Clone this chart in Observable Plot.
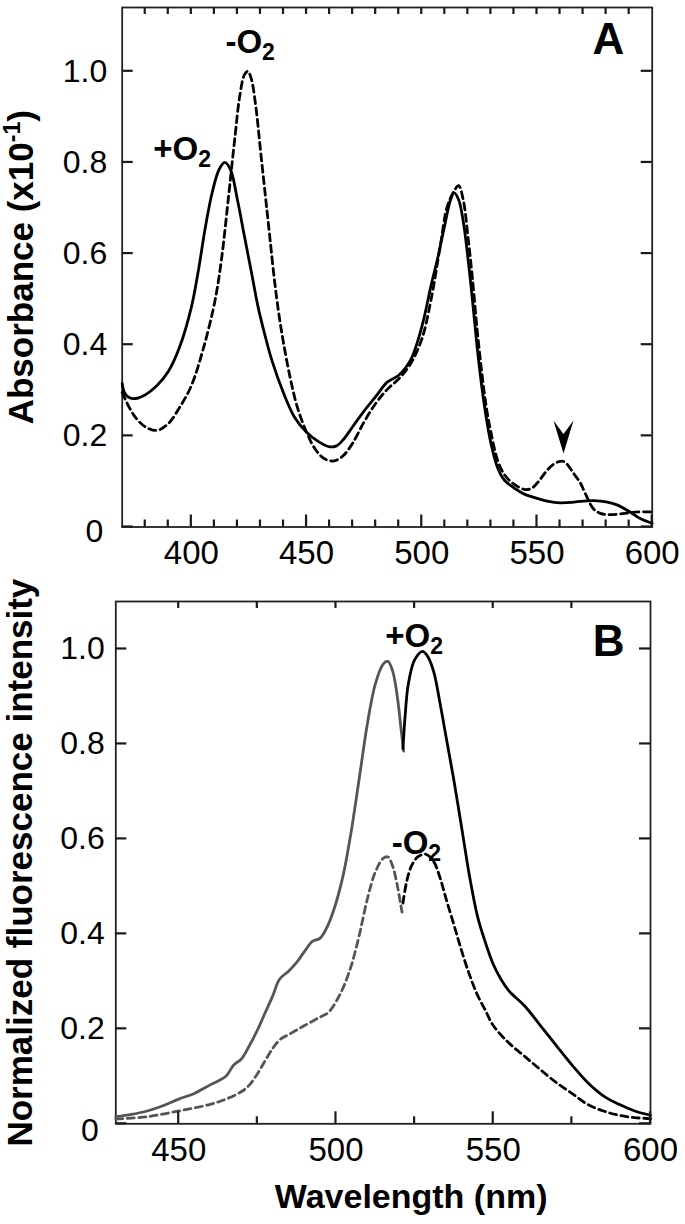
<!DOCTYPE html>
<html><head><meta charset="utf-8">
<script src="https://cdn.jsdelivr.net/npm/d3@7"></script>
<script src="https://cdn.jsdelivr.net/npm/@observablehq/plot@0.6"></script>
<style>
html,body{margin:0;padding:0;background:#fff;}
#chart{width:685px;}
#chart svg{display:block;}
</style></head><body><div id="chart"></div>
<script>
// ---------- Panel A: absorbance ----------
const aWlPlus = [370,371,373,376,380,385,390,395,400,403,406,409,412,414.5,417,420,423,426,429,432,435,440,445,450,455,460,463,466,470,475,480,485,490,495,498,501,504,507,510,512.5,514,516,518,520,522,524,526,528,530,533,536,540,545,550,555,560,565,570,575,580,585,590,595,600];
const aAbsPlus = [0.315,0.295,0.284,0.282,0.29,0.31,0.341,0.396,0.482,0.561,0.655,0.733,0.784,0.8,0.784,0.718,0.639,0.561,0.482,0.42,0.365,0.294,0.239,0.208,0.188,0.176,0.178,0.192,0.22,0.255,0.286,0.318,0.333,0.365,0.404,0.459,0.529,0.592,0.663,0.718,0.733,0.718,0.671,0.592,0.498,0.396,0.31,0.239,0.184,0.129,0.102,0.086,0.071,0.063,0.056,0.053,0.054,0.057,0.058,0.055,0.048,0.034,0.018,0.008];
const aWlMinus = [370,373,376,380,385,390,395,400,405,410,413,416,419,421,423,424.5,426,428,430,432,434,436,438,440,443,446,450,454,458,462,466,470,475,480,485,490,495,500,504,508,511,514,516,518,520,522,524,526,528,530,533,536,540,545,548,551,554,557,560,562,566,569,571,574.5,577.5,582,588,594,600];
const aAbsMinus = [0.295,0.263,0.239,0.22,0.212,0.227,0.263,0.31,0.388,0.49,0.584,0.718,0.859,0.945,0.992,1.0,0.984,0.922,0.827,0.733,0.639,0.545,0.467,0.404,0.325,0.263,0.208,0.169,0.149,0.145,0.157,0.184,0.231,0.271,0.302,0.325,0.357,0.412,0.498,0.616,0.702,0.737,0.749,0.718,0.639,0.545,0.435,0.341,0.263,0.208,0.145,0.114,0.094,0.082,0.086,0.102,0.122,0.137,0.144,0.143,0.117,0.095,0.073,0.04,0.03,0.027,0.03,0.033,0.033];
const aXDomain = [370, 600];
const aYDomain = [0, 1.14];
const aXMajor = [400,450,500,550,600];
const aXMinor = [380,390,410,420,430,440,460,470,480,490,510,520,530,540,560,570,580,590];
const aXTop = [380,390,400,410,420,430,440,450,460,470,480,490,500,510,520,530,540,550,560,570,580,590];
const aYTicks = [0.2,0.4,0.6,0.8,1.0];
const aYZero = [0];
const aYTitle = "Absorbance (x10-1)";
const aLabels = [{t:"+O2", w:383.5, v:0.805}, {t:"-O2", w:414.8, v:1.04}];
const aPanel = [{t:"A", w:581, v:1.039}];
const aArrow = [{w:561.5, v:0.1975}];

// ---------- Panel B: fluorescence ----------
const bWlPlusL = [430,435,440,445,450,455,460,465,467.5,470,472.5,475,477.5,480,482,485,487.5,490,492.5,495,497.5,500,502.5,505,507.5,510,512.5,515,516.5,518,519.5,520.5,521.5];
const bIntPlusL = [0.015,0.02,0.027,0.038,0.052,0.064,0.082,0.10,0.124,0.137,0.165,0.197,0.234,0.271,0.304,0.322,0.34,0.363,0.384,0.391,0.419,0.465,0.53,0.622,0.732,0.843,0.926,0.968,0.974,0.954,0.9,0.843,0.785];
const bWlPlusR = [521.3,522,523,525,527.5,529,531,533,535,537.5,540,542.5,545,547.5,550,552.5,555,560,565,570,575,580,585,590,595,600];
const bIntPlusR = [0.79,0.86,0.926,0.977,0.995,0.986,0.954,0.889,0.815,0.723,0.622,0.52,0.437,0.382,0.336,0.304,0.28,0.248,0.207,0.165,0.124,0.087,0.059,0.041,0.027,0.018];
const bWlMinusL = [430,440,450,460,465,470,472.5,475,477.5,480,482.5,485,490,495,497.5,500,502.5,505,507.5,510,512.5,515,516.5,518,519.5,520.5,521];
const bIntMinusL = [0.01,0.015,0.027,0.041,0.052,0.068,0.082,0.105,0.133,0.16,0.179,0.188,0.207,0.225,0.234,0.257,0.29,0.336,0.4,0.474,0.53,0.559,0.562,0.543,0.502,0.465,0.446];
const bWlMinusR = [521.3,522.5,524,526,528.5,531,533,535,537.5,540,542.5,545,547.5,550,555,560,565,570,575,580,585,590,595,600];
const bIntMinusR = [0.465,0.511,0.543,0.562,0.568,0.553,0.52,0.474,0.419,0.363,0.313,0.271,0.239,0.207,0.17,0.142,0.114,0.087,0.064,0.041,0.027,0.018,0.013,0.011];
const bXDomain = [430, 600];
const bYDomain = [0, 1.1];
const bXMajor = [450,500,550,600];
const bXMinor = [475,525,575];
const bXTop = [450,475,500,525,550,575];
const bYTicks = [0.2,0.4,0.6,0.8,1.0];
const bYZero = [0];
const bYTitle = "Normalized fluorescence intensity";
const bXTitle = "Wavelength (nm)";
const bLabels = [{t:"+O2", w:515.7, v:1.005}, {t:"-O2", w:517.7, v:0.568}];
const bPanel = [{t:"B", w:586.7, v:0.986}];

// ---------- helpers ----------
const FONT = "'Liberation Sans', Arial, Helvetica, sans-serif";
const zip = (xs, ys) => xs.map((w, i) => ({w, v: ys[i]}));
const fmtY = d => d === 0 ? "0" : d.toFixed(1);
const FRAME = "#222";
const TICK = "#1a1a1a";
const arrowSymbol = {
  draw(ctx) {
    ctx.moveTo(-10, -16.5);
    ctx.lineTo(0, -3);
    ctx.lineTo(10, -16.5);
    ctx.lineTo(0, 16.5);
    ctx.closePath();
  }
};

function axes(xMajor, yTicks, yZero, yPad, zeroShift) {
  return [
    Plot.frame({stroke: FRAME, strokeWidth: 1.8}),
    Plot.axisX(xMajor, {anchor: "bottom", tickSize: 0, tickPadding: 14, label: null, fill: "black", fontSize: 33}),
    Plot.axisY(yTicks, {anchor: "left", tickSize: 0, tickPadding: yPad, tickFormat: fmtY, label: null, fill: "black", fontSize: 32}),
    Plot.axisY(yZero, {anchor: "left", tickSize: 0, tickPadding: yPad + zeroShift[0], dy: zeroShift[1], tickFormat: fmtY, label: null, fill: "black", fontSize: 32})
  ];
}

// inward ticks drawn with d3 through the plot's own scales
function addTicks(svg, xMajor, xMinor, xTop, yAll) {
  const sx = svg.scale("x"), sy = svg.scale("y");
  const [r0, r1] = sx.range, [b, t] = sy.range;
  const g = d3.select(svg).append("g").attr("stroke", TICK).attr("stroke-width", 2.2);
  const vx = (arr, y0, len) => arr.forEach(v => {
    const x = sx.apply(v);
    g.append("line").attr("x1", x).attr("x2", x).attr("y1", y0).attr("y2", y0 + len);
  });
  const hy = (arr, x0, len) => arr.forEach(v => {
    const y = sy.apply(v);
    g.append("line").attr("y1", y).attr("y2", y).attr("x1", x0).attr("x2", x0 + len);
  });
  vx(xMajor, b, -12);
  vx(xMinor, b, -7);
  vx(xTop, t, 7);
  hy(yAll, r0, 11);
  hy(yAll, r1, -11);
}

const lblMarks = (labels) => Plot.text(labels, {x: "w", y: "v", text: "t", textAnchor: "start", lineAnchor: "bottom", fontSize: 33, fontWeight: "bold", fill: "black"});
const panelMark = (p) => Plot.text(p, {x: "w", y: "v", text: "t", textAnchor: "middle", lineAnchor: "bottom", fontSize: 44, fontWeight: "bold", fill: "black"});

const style = {fontFamily: FONT, fontSize: "32px", color: "black", background: "white", overflow: "visible"};

const plotA = Plot.plot({
  width: 685, height: 575,
  marginLeft: 121.7, marginRight: 33.3, marginTop: 7, marginBottom: 48.5,
  x: {domain: aXDomain},
  y: {domain: aYDomain},
  style,
  marks: [
    ...axes(aXMajor, aYTicks, aYZero, 15, [4, 5]),
    Plot.line(zip(aWlMinus, aAbsMinus), {x: "w", y: "v", stroke: "black", strokeWidth: 2.8, strokeDasharray: "7,4.5", curve: "catmull-rom"}),
    Plot.line(zip(aWlPlus, aAbsPlus), {x: "w", y: "v", stroke: "black", strokeWidth: 2.8, curve: "catmull-rom"}),
    Plot.dot(aArrow, {x: "w", y: "v", symbol: arrowSymbol, fill: "black", stroke: "none"}),
    lblMarks(aLabels),
    panelMark(aPanel),
    Plot.text([aYTitle], {frameAnchor: "left", rotate: -90, dx: -89.7, textAnchor: "middle", lineAnchor: "bottom", fontSize: 35, fontWeight: "bold", fill: "black"})
  ]
});

const plotB = Plot.plot({
  width: 685, height: 649,
  marginLeft: 115.3, marginRight: 35, marginTop: 26, marginBottom: 100.7,
  x: {domain: bXDomain},
  y: {domain: bYDomain},
  style,
  marks: [
    ...axes(bXMajor, bYTicks, bYZero, 11, [6, 7]),
    Plot.line(zip(bWlMinusL, bIntMinusL), {x: "w", y: "v", stroke: "#555", strokeWidth: 2.8, strokeDasharray: "7,4.5", curve: "catmull-rom"}),
    Plot.line(zip(bWlMinusR, bIntMinusR), {x: "w", y: "v", stroke: "black", strokeWidth: 2.8, strokeDasharray: "7,4.5", curve: "catmull-rom"}),
    Plot.line(zip(bWlPlusL, bIntPlusL), {x: "w", y: "v", stroke: "#555", strokeWidth: 2.8, curve: "catmull-rom"}),
    Plot.line(zip(bWlPlusR, bIntPlusR), {x: "w", y: "v", stroke: "black", strokeWidth: 2.8, curve: "catmull-rom"}),
    lblMarks(bLabels),
    panelMark(bPanel),
    Plot.text([bYTitle], {frameAnchor: "left", rotate: -90, dx: -84.3, textAnchor: "middle", lineAnchor: "bottom", fontSize: 35, fontWeight: "bold", fill: "black"}),
    Plot.text([bXTitle], {frameAnchor: "bottom", dx: 28, dy: 84.2, textAnchor: "middle", lineAnchor: "bottom", fontSize: 34, fontWeight: "bold", fill: "black"})
  ]
});

function richText(svg) {
  d3.select(svg).selectAll("text").each(function() {
    const t = this.textContent;
    const el = d3.select(this);
    let m = /^([+-]O)2$/.exec(t);
    if (m) {
      el.text(null);
      el.append("tspan").text(m[1]);
      el.append("tspan").attr("font-size", 23).attr("dy", 7).text("2");
      return;
    }
    m = /^(.*x10)(-1)(\))$/.exec(t);
    if (m) {
      el.text(null);
      el.append("tspan").text(m[1]);
      el.append("tspan").attr("font-size", 23).attr("dy", -13).text(m[2]);
      el.append("tspan").attr("dy", 13).text(m[3]);
    }
  });
}
richText(plotA);
richText(plotB);
addTicks(plotA, aXMajor, aXMinor, aXTop, [...aYZero, ...aYTicks]);
addTicks(plotB, bXMajor, bXMinor, bXTop, [...bYZero, ...bYTicks]);
document.getElementById("chart").append(plotA, plotB);
</script>
</body></html>
